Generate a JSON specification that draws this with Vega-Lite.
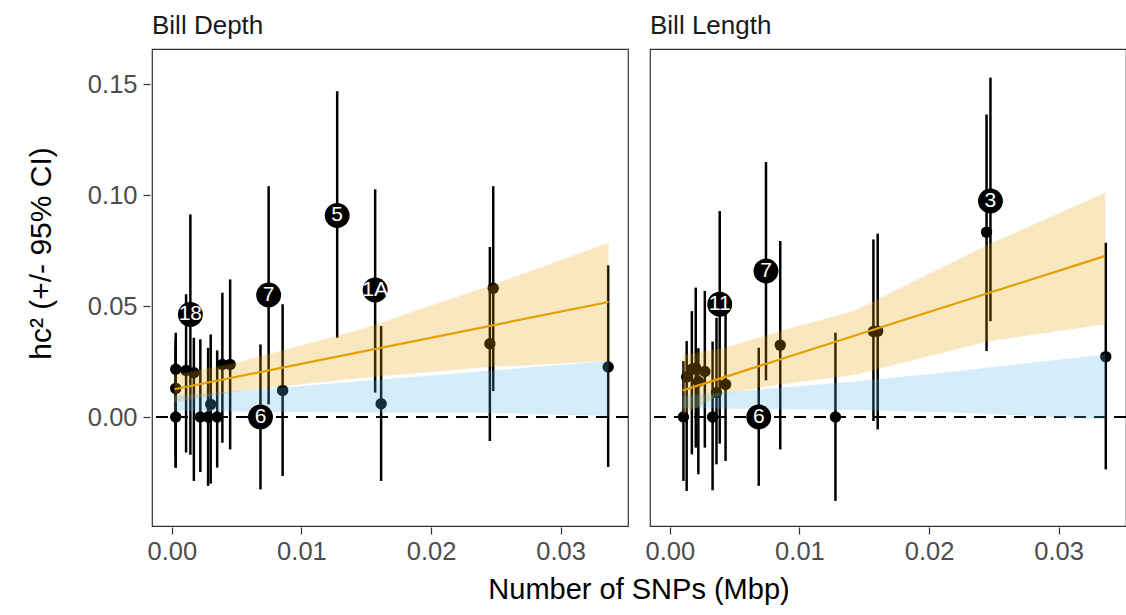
{
  "$schema": "https://vega.github.io/schema/vega-lite/v6.json",
  "padding": {"left": 26, "top": 13, "right": 3, "bottom": 4},
  "background": "white",
  "config": {
    "view": {"stroke": "#333333", "strokeWidth": 1.2},
    "axis": {"grid": false, "domain": false, "tickColor": "#333333", "tickSize": 7, "tickWidth": 1.2,
             "labelFont": "Liberation Sans", "labelFontSize": 25.5, "labelColor": "#4d4d4d",
             "titleFont": "Liberation Sans", "titleFontWeight": "normal", "titleColor": "black"},
    "header": {"labelFont": "Liberation Sans", "labelFontSize": 26, "labelColor": "#1a1a1a"}
  },
  "title": {"text": "Number of SNPs (Mbp)", "orient": "bottom", "anchor": "middle", "fontSize": 29,
            "font": "Liberation Sans", "fontWeight": "normal", "color": "black", "offset": 11, "dx": 62},
  "data": {"values": [
    {"p":"Bill Depth","k":"pt","x":0.0003,"y":0.0215,"lo":-0.018,"hi":0.038},
    {"p":"Bill Depth","k":"pt","x":0.0003,"y":0.0129,"lo":-0.0228,"hi":0.035},
    {"p":"Bill Depth","k":"pt","x":0.0003,"y":0.0,"lo":-0.0228,"hi":0.032},
    {"p":"Bill Depth","k":"pt","x":0.0011,"y":0.021,"lo":-0.016,"hi":0.0553},
    {"p":"Bill Depth","k":"pt","x":0.0017,"y":0.020,"lo":-0.0288,"hi":0.0357},
    {"p":"Bill Depth","k":"pt","x":0.0022,"y":0.0,"lo":-0.0248,"hi":0.035},
    {"p":"Bill Depth","k":"pt","x":0.0028,"y":0.0,"lo":-0.031,"hi":0.0312},
    {"p":"Bill Depth","k":"pt","x":0.0030,"y":0.0057,"lo":-0.030,"hi":0.0372},
    {"p":"Bill Depth","k":"pt","x":0.0035,"y":0.0,"lo":-0.0228,"hi":0.030},
    {"p":"Bill Depth","k":"pt","x":0.0039,"y":0.0237,"lo":-0.0116,"hi":0.056},
    {"p":"Bill Depth","k":"pt","x":0.0045,"y":0.0237,"lo":-0.0146,"hi":0.062},
    {"p":"Bill Depth","k":"pt","x":0.00855,"y":0.012,"lo":-0.0266,"hi":0.0508},
    {"p":"Bill Depth","k":"pt","x":0.01615,"y":0.006,"lo":-0.0288,"hi":0.041},
    {"p":"Bill Depth","k":"pt","x":0.0248,"y":0.058,"lo":0.0117,"hi":0.104},
    {"p":"Bill Depth","k":"pt","x":0.02454,"y":0.033,"lo":-0.0108,"hi":0.0766},
    {"p":"Bill Depth","k":"pt","x":0.03367,"y":0.0225,"lo":-0.0225,"hi":0.0683},
    {"p":"Bill Depth","k":"lab","lab":"18","x":0.00143,"y":0.0462,"lo":-0.017,"hi":0.0913},
    {"p":"Bill Depth","k":"lab","lab":"7","x":0.00747,"y":0.055,"lo":0.0057,"hi":0.104},
    {"p":"Bill Depth","k":"lab","lab":"6","x":0.00684,"y":0.0,"lo":-0.0326,"hi":0.0327},
    {"p":"Bill Depth","k":"lab","lab":"5","x":0.01276,"y":0.0908,"lo":0.0357,"hi":0.1468},
    {"p":"Bill Depth","k":"lab","lab":"1A","x":0.01569,"y":0.0572,"lo":0.011,"hi":0.1026},
    {"p":"Bill Depth","k":"fit","x":0.0002,"y":0.0125},
    {"p":"Bill Depth","k":"fit","x":0.0337,"y":0.0518},
    {"p":"Bill Depth","k":"ci","x":0.0002,"lo":0.0065,"hi":0.019},
    {"p":"Bill Depth","k":"ci","x":0.005,"lo":0.0115,"hi":0.0245},
    {"p":"Bill Depth","k":"ci","x":0.0143,"lo":0.0175,"hi":0.039},
    {"p":"Bill Depth","k":"ci","x":0.0245,"lo":0.0225,"hi":0.059},
    {"p":"Bill Depth","k":"ci","x":0.0337,"lo":0.0252,"hi":0.0785},
    {"p":"Bill Depth","k":"nul","x":0.0002,"lo":0.0027,"hi":0.0095},
    {"p":"Bill Depth","k":"nul","x":0.0143,"lo":0.002,"hi":0.016},
    {"p":"Bill Depth","k":"nul","x":0.0235,"lo":0.002,"hi":0.0204},
    {"p":"Bill Depth","k":"nul","x":0.0337,"lo":0.0005,"hi":0.0252},
    {"p":"Bill Depth","k":"zero","y":0},
    {"p":"Bill Length","k":"pt","x":0.00105,"y":0.0,"lo":-0.0288,"hi":0.0252},
    {"p":"Bill Length","k":"pt","x":0.0013,"y":0.018,"lo":-0.0333,"hi":0.0342},
    {"p":"Bill Length","k":"pt","x":0.0017,"y":0.0215,"lo":-0.0168,"hi":0.0477},
    {"p":"Bill Length","k":"pt","x":0.0020,"y":0.022,"lo":-0.0138,"hi":0.0583},
    {"p":"Bill Length","k":"pt","x":0.0022,"y":0.016,"lo":-0.0258,"hi":0.031},
    {"p":"Bill Length","k":"pt","x":0.0027,"y":0.0205,"lo":-0.0138,"hi":0.0568},
    {"p":"Bill Length","k":"pt","x":0.0033,"y":0.0,"lo":-0.033,"hi":0.034},
    {"p":"Bill Length","k":"pt","x":0.0036,"y":0.011,"lo":-0.0213,"hi":0.0447},
    {"p":"Bill Length","k":"pt","x":0.0043,"y":0.0147,"lo":-0.0198,"hi":0.049},
    {"p":"Bill Length","k":"pt","x":0.00852,"y":0.0324,"lo":-0.0146,"hi":0.0793},
    {"p":"Bill Length","k":"pt","x":0.01278,"y":0.0,"lo":-0.0378,"hi":0.038},
    {"p":"Bill Length","k":"pt","x":0.01571,"y":0.0385,"lo":-0.0018,"hi":0.080},
    {"p":"Bill Length","k":"pt","x":0.01604,"y":0.0387,"lo":-0.0056,"hi":0.0826},
    {"p":"Bill Length","k":"pt","x":0.02444,"y":0.0833,"lo":0.0297,"hi":0.1363},
    {"p":"Bill Length","k":"pt","x":0.03364,"y":0.0272,"lo":-0.0236,"hi":0.0785},
    {"p":"Bill Length","k":"lab","lab":"11","x":0.00385,"y":0.0508,"lo":-0.012,"hi":0.0928},
    {"p":"Bill Length","k":"lab","lab":"7","x":0.00742,"y":0.0658,"lo":0.0165,"hi":0.1149},
    {"p":"Bill Length","k":"lab","lab":"6","x":0.00686,"y":0.0,"lo":-0.031,"hi":0.0312},
    {"p":"Bill Length","k":"lab","lab":"3","x":0.02474,"y":0.0973,"lo":0.0432,"hi":0.1529},
    {"p":"Bill Length","k":"fit","x":0.001,"y":0.012},
    {"p":"Bill Length","k":"fit","x":0.03355,"y":0.0725},
    {"p":"Bill Length","k":"ci","x":0.001,"lo":0.001,"hi":0.028},
    {"p":"Bill Length","k":"ci","x":0.0041,"lo":0.0105,"hi":0.031},
    {"p":"Bill Length","k":"ci","x":0.0084,"lo":0.0145,"hi":0.0385},
    {"p":"Bill Length","k":"ci","x":0.0143,"lo":0.019,"hi":0.048},
    {"p":"Bill Length","k":"ci","x":0.0245,"lo":0.034,"hi":0.0775},
    {"p":"Bill Length","k":"ci","x":0.0336,"lo":0.0418,"hi":0.101},
    {"p":"Bill Length","k":"nul","x":0.001,"lo":0.004,"hi":0.0095},
    {"p":"Bill Length","k":"nul","x":0.0143,"lo":0.0032,"hi":0.016},
    {"p":"Bill Length","k":"nul","x":0.022,"lo":0.002,"hi":0.0205},
    {"p":"Bill Length","k":"nul","x":0.0336,"lo":-0.001,"hi":0.0282},
    {"p":"Bill Length","k":"zero","y":0}
  ]},
  "facet": {"column": {"field": "p", "type": "nominal", "sort": ["Bill Depth", "Bill Length"],
            "header": {"title": null, "labelAnchor": "start", "labelPadding": 9}}},
  "spacing": 18,
  "spec": {
    "width": 476,
    "height": 477,
    "encoding": {
      "x": {"field": "x", "type": "quantitative",
            "scale": {"domain": [-0.00153, 0.0352], "nice": false, "zero": false},
            "axis": {"title": null, "values": [0, 0.01, 0.02, 0.03], "format": ".2f", "labelPadding": 5}}
    },
    "layer": [
      {
        "transform": [{"filter": "datum.k == 'pt' || datum.k == 'lab'"}],
        "mark": {"type": "rule", "strokeWidth": 2.5, "color": "black"},
        "encoding": {
          "y": {"field": "lo", "type": "quantitative",
                "scale": {"domain": [-0.0491, 0.1658], "nice": false, "zero": false},
                "axis": {"title": "hc² (+/- 95% CI)", "values": [0, 0.05, 0.1, 0.15], "format": ".2f",
                         "labelPadding": 6, "titleFontSize": 30, "titlePadding": 31, "titleY": 204}},
          "y2": {"field": "hi"}
        }
      },
      {
        "transform": [{"filter": "datum.k == 'pt'"}],
        "mark": {"type": "circle", "size": 130, "opacity": 1, "color": "black"},
        "encoding": {"y": {"field": "y", "type": "quantitative"}}
      },
      {
        "transform": [{"filter": "datum.k == 'zero'"}],
        "mark": {"type": "rule", "strokeDash": [12, 8], "strokeWidth": 2, "color": "black"},
        "encoding": {"x": null, "y": {"field": "y", "type": "quantitative"}}
      },
      {
        "transform": [{"filter": "datum.k == 'ci'"}],
        "mark": {"type": "area", "color": "#E69F00", "opacity": 0.25},
        "encoding": {"y": {"field": "lo", "type": "quantitative"}, "y2": {"field": "hi"}}
      },
      {
        "transform": [{"filter": "datum.k == 'nul'"}],
        "mark": {"type": "area", "color": "#56B4E9", "opacity": 0.25},
        "encoding": {"y": {"field": "lo", "type": "quantitative"}, "y2": {"field": "hi"}}
      },
      {
        "transform": [{"filter": "datum.k == 'fit'"}],
        "mark": {"type": "line", "color": "#E69F00", "strokeWidth": 2.2},
        "encoding": {"y": {"field": "y", "type": "quantitative"}}
      },
      {
        "transform": [{"filter": "datum.k == 'lab'"}],
        "mark": {"type": "circle", "size": 620, "opacity": 1, "color": "black"},
        "encoding": {"y": {"field": "y", "type": "quantitative"}}
      },
      {
        "transform": [{"filter": "datum.k == 'lab'"}],
        "mark": {"type": "text", "color": "white", "fontSize": 21, "font": "Liberation Sans", "align": "center", "baseline": "middle"},
        "encoding": {"y": {"field": "y", "type": "quantitative"}, "text": {"field": "lab"}}
      }
    ]
  }
}
